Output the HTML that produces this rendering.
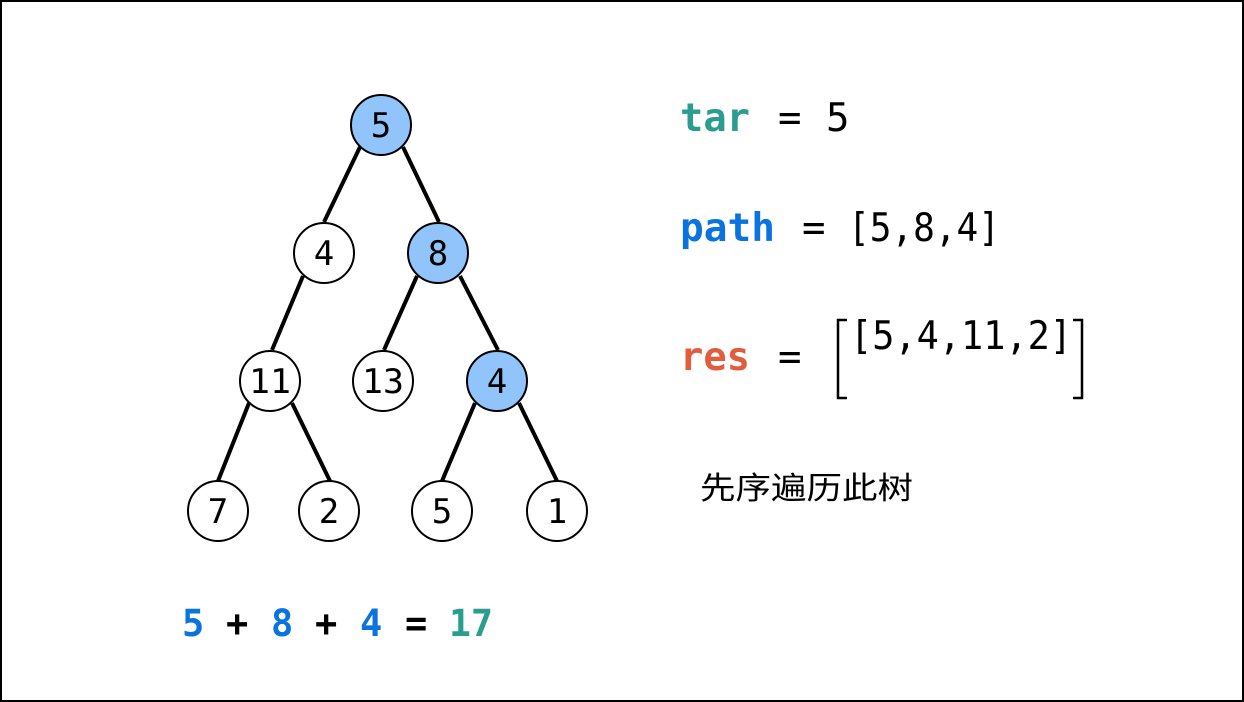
<!DOCTYPE html>
<html><head><meta charset="utf-8"><style>
html,body{margin:0;padding:0;background:#fff;}
svg{display:block;}
text{font-family:"DejaVu Sans Mono","Liberation Mono",monospace;}
</style></head><body>
<svg width="1244" height="702" viewBox="0 0 1244 702" xmlns="http://www.w3.org/2000/svg">
<rect x="1" y="1" width="1242" height="700" fill="#fff" stroke="#000" stroke-width="2"/>
<g stroke="#000" stroke-width="4" stroke-linecap="butt">
<line x1="360" y1="147" x2="324" y2="222"/>
<line x1="403" y1="147" x2="439" y2="222"/>
<line x1="303" y1="276" x2="272" y2="350"/>
<line x1="417" y1="276" x2="384" y2="350"/>
<line x1="460" y1="276" x2="498" y2="350"/>
<line x1="249" y1="403" x2="218" y2="481"/>
<line x1="292" y1="403" x2="330" y2="481"/>
<line x1="475" y1="403" x2="442" y2="481"/>
<line x1="519" y1="403" x2="557" y2="481"/>
</g>
<g stroke="#000" stroke-width="2">
<circle cx="381" cy="125" r="30" fill="#90c4fa"/>
<circle cx="324" cy="253" r="30" fill="#fff"/>
<circle cx="438" cy="253" r="30" fill="#90c4fa"/>
<circle cx="270" cy="381" r="30" fill="#fff"/>
<circle cx="383" cy="381" r="30" fill="#fff"/>
<circle cx="497" cy="381" r="30" fill="#90c4fa"/>
<circle cx="218" cy="511" r="30" fill="#fff"/>
<circle cx="329" cy="511" r="30" fill="#fff"/>
<circle cx="442" cy="511" r="30" fill="#fff"/>
<circle cx="557" cy="511" r="30" fill="#fff"/>
</g>
<g font-size="34" text-anchor="middle" fill="#000">
<text x="381" y="137">5</text>
<text x="324" y="265">4</text>
<text x="438" y="265">8</text>
<text x="270" y="393" textLength="42" lengthAdjust="spacingAndGlyphs">11</text>
<text x="383" y="393" textLength="42" lengthAdjust="spacingAndGlyphs">13</text>
<text x="497" y="393">4</text>
<text x="218" y="523">7</text>
<text x="329" y="523">2</text>
<text x="442" y="523">5</text>
<text x="557" y="523">1</text>
</g>
<g font-size="39">
<text x="680" y="131" font-weight="bold" fill="#2a9d8f" textLength="70" lengthAdjust="spacingAndGlyphs">tar</text>
<text x="778" y="131" fill="#000">=</text>
<text x="826" y="131" fill="#000">5</text>
<text x="680" y="241" font-weight="bold" fill="#0a73e0" textLength="95" lengthAdjust="spacingAndGlyphs">path</text>
<text x="802" y="241" fill="#000">=</text>
<text x="848" y="241" fill="#000" textLength="152" lengthAdjust="spacingAndGlyphs">[5,8,4]</text>
<text x="680" y="370" font-weight="bold" fill="#e25c3d" textLength="70" lengthAdjust="spacingAndGlyphs">res</text>
<text x="778" y="370" fill="#000">=</text>
<text x="850" y="349" fill="#000" textLength="222" lengthAdjust="spacingAndGlyphs">[5,4,11,2]</text>
</g>
<path d="M847 320 H838 V398 H847 M1073 320 H1082 V398 H1073" fill="none" stroke="#000" stroke-width="2.5"/>
<text x="700" y="499" font-size="31" style="font-family:'Noto Sans CJK SC',sans-serif" fill="#000" textLength="213" lengthAdjust="spacingAndGlyphs">先序遍历此树</text>
<g font-size="37" font-weight="bold">
<text x="182" y="636" fill="#0a73e0">5</text>
<text x="226" y="636" fill="#000">+</text>
<text x="271" y="636" fill="#0a73e0">8</text>
<text x="315" y="636" fill="#000">+</text>
<text x="360" y="636" fill="#0a73e0">4</text>
<text x="405" y="636" fill="#000">=</text>
<text x="449" y="636" fill="#2a9d8f" textLength="44" lengthAdjust="spacingAndGlyphs">17</text>
</g>
</svg>
</body></html>
